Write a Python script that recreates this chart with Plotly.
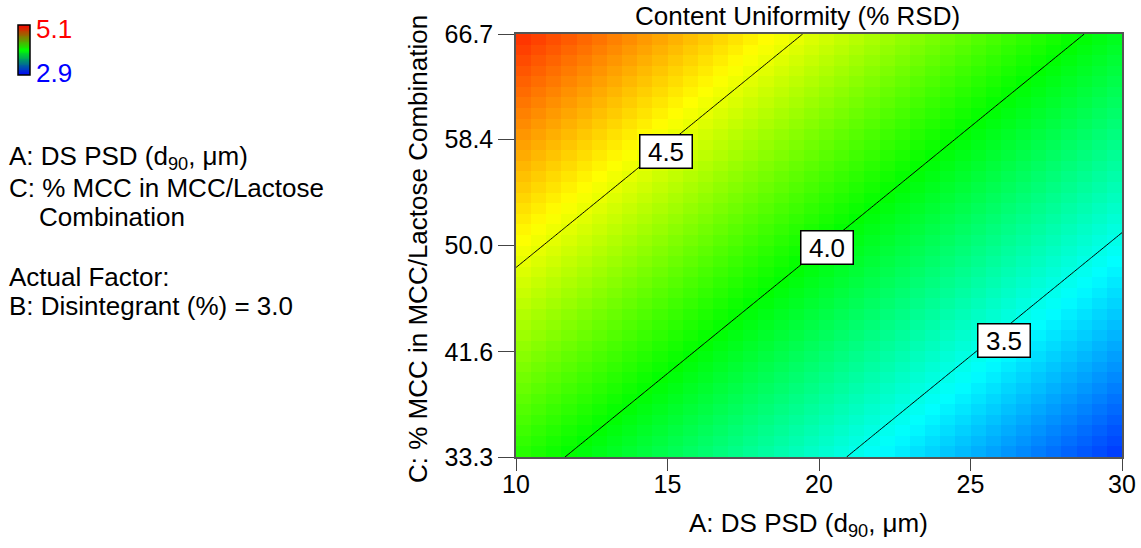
import numpy as np
import plotly.graph_objects as go

# ---------------- data ----------------
a_range = [10.0, 30.0]            # A: DS PSD (d90, um)
c_range = [33.3, 66.7]            # C: % MCC in MCC/Lactose combination
x_ticks = [10, 15, 20, 25, 30]
y_ticks = [33.3, 41.6, 50.0, 58.4, 66.7]
# fitted response model (coded units): RSD = b0 + bA*a + bC*c
model_terms = ["Intercept", "A", "C"]
model_coefs = [4.01, -0.538, 0.461]
contour_levels = [3.5, 4.0, 4.5]
label_A = [26.1, 20.25, 14.95]    # A position of each contour label
color_min, color_max = 2.9, 5.1
n_cells = 40

title_text = "Content Uniformity (% RSD)"
x_title = "A: DS PSD (d<sub>90</sub>, μm)"
y_title = "C: % MCC in MCC/Lactose Combination"
side_lines = ["A: DS PSD (d<sub>90</sub>, μm)", "C: % MCC in MCC/Lactose", "Combination",
              "Actual Factor:", "B: Disintegrant (%) = 3.0"]


def model(A, C):
    a = (A - (a_range[0] + a_range[1]) / 2) / ((a_range[1] - a_range[0]) / 2)
    c = (C - (c_range[0] + c_range[1]) / 2) / ((c_range[1] - c_range[0]) / 2)
    return model_coefs[0] + model_coefs[1] * a + model_coefs[2] * c


# cell centers for the pixelated surface
xa = a_range[0] + (np.arange(n_cells) + 0.5) * (a_range[1] - a_range[0]) / n_cells
yc = c_range[0] + (np.arange(n_cells) + 0.5) * (c_range[1] - c_range[0]) / n_cells
XX, YY = np.meshgrid(xa, yc)
Z = model(XX, YY)

# fine grid for contour lines
xf = np.linspace(a_range[0], a_range[1], 101)
yf = np.linspace(c_range[0], c_range[1], 101)
XF, YF = np.meshgrid(xf, yf)
ZF = model(XF, YF)

cscale = [[0.0, "rgb(0,0,255)"], [0.25, "rgb(0,255,255)"], [0.5, "rgb(0,255,0)"],
          [0.75, "rgb(255,255,0)"], [1.0, "rgb(255,0,0)"]]
legend_scale = [[0.0, "rgb(0,0,255)"], [0.5, "rgb(0,255,0)"], [1.0, "rgb(255,0,0)"]]

FONT = "Liberation Sans, Arial, sans-serif"
FS = 26     # text size
FT = 25     # tick label size
W, H = 1141, 548
# plot box in pixels
PL, PR, PT, PB = 516, 1122, 34, 457


def px(xp):
    return xp / W


def py(yp):
    return 1 - yp / H


fig = go.Figure()
fig.add_trace(go.Heatmap(
    x=xa, y=yc, z=Z, zmin=color_min, zmax=color_max, colorscale=cscale, zsmooth=False,
    hoverinfo="skip", showscale=False))
fig.add_trace(go.Contour(
    x=xf, y=yf, z=ZF, showscale=False, hoverinfo="skip",
    contours=dict(start=contour_levels[0], end=contour_levels[-1],
                  size=contour_levels[1] - contour_levels[0], coloring="lines"),
    colorscale=[[0, "black"], [1, "black"]], line=dict(width=1)))

# color legend bar (gradient from min to max)
bar_vals = np.linspace(color_min, color_max, 60)
fig.add_trace(go.Heatmap(
    z=bar_vals.reshape(-1, 1), x=[0], y=bar_vals, zmin=color_min, zmax=color_max,
    colorscale=legend_scale, showscale=False, hoverinfo="skip", xaxis="x2", yaxis="y2"))

annotations = []
label_shift = [-12, -4, -6]   # label box offset below the line, px
for lev, A, sh in zip(contour_levels, label_A, label_shift):
    # point on the contour line: solve model(A, C) = lev (linear in C)
    c0 = model(A, c_range[0])
    c1 = model(A, c_range[1])
    C = c_range[0] + (lev - c0) / (c1 - c0) * (c_range[1] - c_range[0])
    annotations.append(dict(x=A, y=C, xref="x", yref="y", text=f"{lev:.1f}", showarrow=False,
                            yshift=sh, bgcolor="white", bordercolor="black", borderwidth=1.5,
                            borderpad=2, width=47, height=28,
                            font=dict(size=FS, color="black", family=FONT)))

annotations.append(dict(x=px(34), y=py(29), xref="paper", yref="paper", xanchor="left",
                        yanchor="middle", text=f"{color_max:.1f}", showarrow=False,
                        font=dict(size=FS, color="red", family=FONT)))
annotations.append(dict(x=px(34), y=py(73), xref="paper", yref="paper", xanchor="left",
                        yanchor="middle", text=f"{color_min:.1f}", showarrow=False,
                        font=dict(size=FS, color="blue", family=FONT)))
side_pos = [(7, 158), (7, 188), (37, 217), (7, 277), (7, 306)]
for t, (xp, yp) in zip(side_lines, side_pos):
    annotations.append(dict(x=px(xp), y=py(yp), xref="paper", yref="paper", xanchor="left",
                            yanchor="middle", text=t, showarrow=False,
                            font=dict(size=FS, color="black", family=FONT)))
annotations.append(dict(x=px(797), y=py(16), xref="paper", yref="paper",
                        xanchor="center", yanchor="middle", text=title_text, showarrow=False,
                        font=dict(size=FS, color="black", family=FONT)))
annotations.append(dict(x=px(808), y=py(524), xref="paper", yref="paper",
                        xanchor="center", yanchor="middle", text=x_title, showarrow=False,
                        font=dict(size=FS, color="black", family=FONT)))
annotations.append(dict(x=px(418), y=py(249), xref="paper", yref="paper",
                        xanchor="center", yanchor="middle", text=y_title, textangle=-90,
                        showarrow=False, font=dict(size=FS, color="black", family=FONT)))

shapes = [dict(type="rect", xref="x2 domain", yref="y2 domain", x0=0, x1=1, y0=0, y1=1,
               line=dict(color="black", width=1.5))]

fig.update_layout(
    width=W, height=H, margin=dict(l=0, r=0, t=0, b=0, autoexpand=False),
    paper_bgcolor="white", plot_bgcolor="white",
    font=dict(family=FONT, size=FS, color="black"),
    showlegend=False, annotations=annotations, shapes=shapes,
    xaxis=dict(domain=[px(PL), px(PR)], range=a_range, tickvals=x_ticks, ticks="outside",
               ticklen=12, tickcolor="#444", tickwidth=1.2, showline=True, linecolor="#555",
               linewidth=1.5, mirror=True, showgrid=False, zeroline=False, automargin=False,
               ticklabelstandoff=-8, tickfont=dict(size=FT)),
    yaxis=dict(domain=[py(PB), py(PT)], range=c_range, tickvals=y_ticks, tickformat=".1f",
               ticks="outside", ticklen=16, tickcolor="#444", tickwidth=1.2, showline=True,
               linecolor="#555", linewidth=1.5, mirror=True, showgrid=False, zeroline=False,
               automargin=False, tickfont=dict(size=FT)),
    xaxis2=dict(domain=[px(18), px(30)], visible=False, anchor="y2", fixedrange=True),
    yaxis2=dict(domain=[py(75), py(25)], visible=False, anchor="x2", fixedrange=True,
                range=[color_min, color_max]),
)

fig.write_html("out.html", config={"displayModeBar": False},
               post_script="document.body.style.margin='0px';")
